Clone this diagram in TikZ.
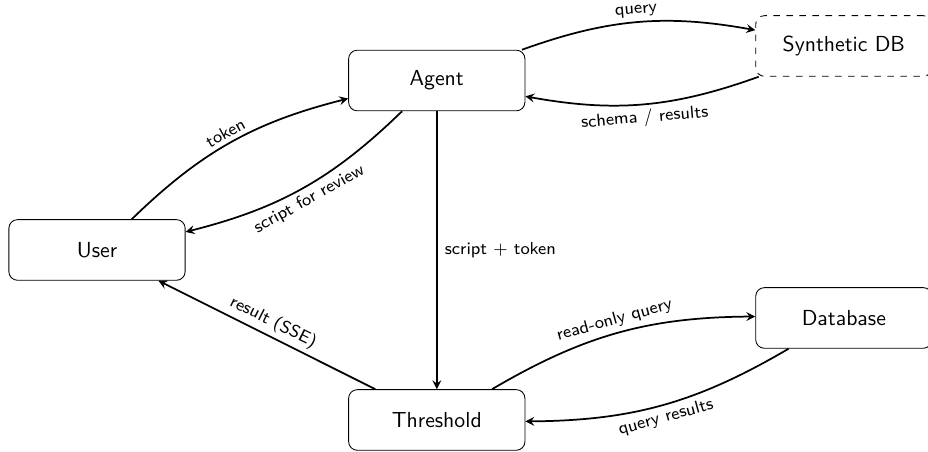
\documentclass[tikz,border=0pt]{standalone}
\renewcommand{\familydefault}{\sfdefault}

\begin{document}
\begin{tikzpicture}[
  box/.style={draw, rounded corners, minimum width=2.85cm, minimum height=0.98cm},
  flow/.style={->, >=stealth, thick},
  lbl/.style={font=\footnotesize, sloped, inner sep=2pt}
]
\useasboundingbox (0,0.04) rectangle (15,-7.25);

\node[box] (agent) at (7.06,-1.261) {Agent};
\node[box] (user) at (1.568,-4.0) {User};
\node[box] (threshold) at (7.06,-6.748) {Threshold};
\node[box, dashed] (synth) at (13.64,-0.703) {Synthetic DB};
\node[box] (db) at (13.64,-5.099) {Database};

% user <-> agent
\draw[flow] (user) to[bend left=15] node[lbl, above] {token} (agent);
\draw[flow] (agent) to[bend left=15] node[lbl, below] {script for review} (user);

% agent <-> synthetic db
\draw[flow] (agent) to[bend left=15] node[lbl, above] {query} (synth);
\draw[flow] (synth) to[bend left=15] node[lbl, below] {schema / results} (agent);

\draw[flow] (agent) -- node[right, font=\footnotesize] {script $+$ token} (threshold);
\draw[flow] (threshold) -- node[lbl, above] {result (SSE)} (user);

% threshold <-> database
\draw[flow] (threshold) to[bend left=15] node[lbl, above] {read-only query} (db);
\draw[flow] (db) to[bend left=15] node[lbl, below] {query results} (threshold);
%\node at (7.06,-4.0) {};
\end{tikzpicture}
\end{document}
